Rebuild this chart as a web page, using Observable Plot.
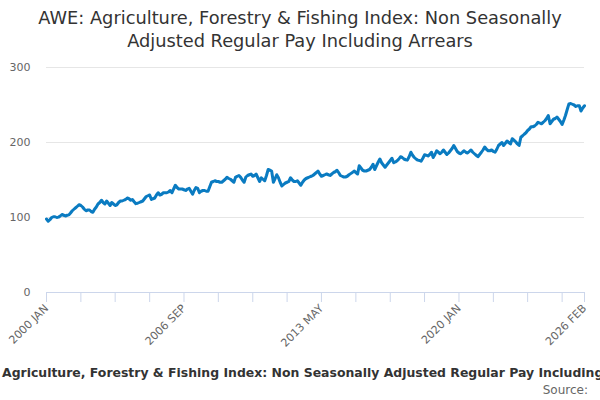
<!DOCTYPE html>
<html>
<head>
<meta charset="utf-8">
<script src="https://cdn.jsdelivr.net/npm/d3@7"></script>
<script src="https://cdn.jsdelivr.net/npm/@observablehq/plot@0.6"></script>
<style>
  html, body { margin: 0; padding: 0; width: 600px; height: 400px; overflow: hidden; background: #fff; font-family: "DejaVu Sans", sans-serif; }
  #title { position: absolute; left: 0; top: 6px; width: 600px; text-align: center; font-size: 17.8px; line-height: 23px; color: #333; }
  #chart { position: absolute; left: 0; top: 55px; }
  #caption { position: absolute; top: 365px; white-space: nowrap; font-size: 12.45px; font-weight: bold; color: #333; }
  #source { position: absolute; top: 383px; right: 12px; font-size: 12px; color: #666; }
</style>
</head>
<body>
<div id="title">AWE: Agriculture, Forestry &amp; Fishing Index: Non Seasonally<br>Adjusted Regular Pay Including Arrears</div>
<div id="chart"></div>
<div id="caption"><span id="capPrefix">AWE: </span>Agriculture, Forestry &amp; Fishing Index: Non Seasonally Adjusted Regular Pay Including Arrears</div>
<div id="source">Source:</div>
<script>
// Monthly index values, 2000 JAN .. 2026 FEB
const values = [
  98, 95, 97, 100, 101, 101, 100, 100.5, 102, 104,
  103, 102, 103, 103.5, 106, 109, 111, 113, 115, 117,
  116, 114, 111, 109, 110, 110, 108, 107, 111, 114,
  118, 120, 123, 120, 118, 122, 119, 116, 120, 118,
  116, 117, 120, 122, 122, 123, 124, 126, 125, 123,
  124, 121, 118.5, 119, 120, 121, 122, 125, 128, 129,
  130, 124, 125, 126, 130, 133, 130, 131, 133, 133,
  133, 134, 136, 133, 138, 143, 140, 138, 138, 138,
  137, 136, 138, 139, 135, 131, 136, 140, 139, 133,
  135, 136, 136, 135, 135, 141, 147, 148, 149, 148,
  148, 147, 147, 149, 151, 153.5, 152, 151, 149, 147,
  153.5, 155, 156, 153.5, 150, 147, 154, 156, 157, 158,
  155, 156, 158, 153, 148, 153, 151, 149, 156, 164,
  163, 162, 147, 152, 157, 153, 147, 142, 144, 146,
  147, 148, 153, 150, 148, 148, 149, 146, 143, 147,
  150, 152, 153, 154, 155, 156, 158, 160, 162, 158,
  155, 156, 157, 158, 157, 156, 158, 160, 161, 163,
  160, 156, 155, 154, 154, 155, 157, 158.5, 160, 162,
  160, 158, 169, 166, 163, 162, 162, 163, 164, 167,
  171, 164, 169, 174, 178, 173, 170, 167, 170, 173,
  176, 179, 173, 174, 175.6, 178, 181, 180, 178, 177,
  176.5, 181, 187, 183, 180, 178, 176.5, 176, 175, 179,
  183.6, 183, 182, 184, 187, 180, 184, 189, 187, 185,
  187, 190, 187, 184, 186, 189, 192, 196, 192, 188,
  186, 185, 187, 189, 187, 186, 188, 190, 187, 185,
  183, 181, 184, 187, 190, 194, 191, 189, 189, 190,
  188, 187, 191, 196, 198, 200, 196, 199, 202, 200,
  198, 205, 203, 201, 198, 196, 207, 209, 211, 213,
  216, 218, 221, 221, 222, 224, 227, 226, 225, 227,
  229, 232, 236, 225, 228, 231, 232, 234, 231, 228,
  224, 230, 236, 244, 251.5, 252, 251, 250, 248, 249,
  249, 242, 246, 249
];
const monthNames = ["JAN","FEB","MAR","APR","MAY","JUN","JUL","AUG","SEP","OCT","NOV","DEC"];
const startYear = 2000;
const tickLabels = ["2000 JAN", "2006 SEP", "2013 MAY", "2020 JAN", "2026 FEB"];
const yTicks = [0, 100, 200, 300];
const tickStep = 20; // months between axis tick marks

const periods = values.map((v, i) => {
  const y = startYear + Math.floor(i / 12), m = i % 12;
  return `${y} ${monthNames[m]}`;
});
const data = values.map((v, i) => ({ date: new Date(Date.UTC(startYear, i, 1)), label: periods[i], value: v }));
const labelOf = new Map(data.map(d => [+d.date, d.label]));
const tickDates = data.filter((d, i) => i % tickStep === 0 || i === data.length - 1).map(d => d.date);

const plot = Plot.plot({
  width: 600,
  height: 300,
  marginLeft: 46,
  marginRight: 16,
  marginTop: 12,
  marginBottom: 63,
  style: { fontFamily: "DejaVu Sans, sans-serif", fontSize: "11px", color: "#666", background: "transparent" },
  x: { type: "utc", domain: [data[0].date, data[data.length - 1].date] },
  y: { domain: [0, 300] },
  marks: [
    Plot.gridY(yTicks, { stroke: "#e6e6e6", strokeOpacity: 1 }),
    Plot.axisY(yTicks, { tickSize: 0, tickPadding: 16, fill: "#666", fontSize: 11, label: null }),
    Plot.ruleY([0], { stroke: "#ccd6eb" }),
    Plot.axisX(tickDates, {
      tickSize: 10, stroke: "#ccd6eb", strokeOpacity: 1,
      tickRotate: -45, tickPadding: 4, fill: "#666", fontSize: 11, label: null,
      tickFormat: d => tickLabels.includes(labelOf.get(+d)) ? labelOf.get(+d) : ""
    }),
    Plot.lineY(data, { x: "date", y: "value", stroke: "#0a7bc1", strokeWidth: 3, strokeLinejoin: "round" })
  ]
});
document.getElementById("chart").appendChild(plot);

// caption overflows like the reference: visible text starts at "Agriculture"
const cap = document.getElementById("caption");
const pre = document.getElementById("capPrefix").getBoundingClientRect().width;
cap.style.left = (2 - pre) + "px";
</script>
</body>
</html>
